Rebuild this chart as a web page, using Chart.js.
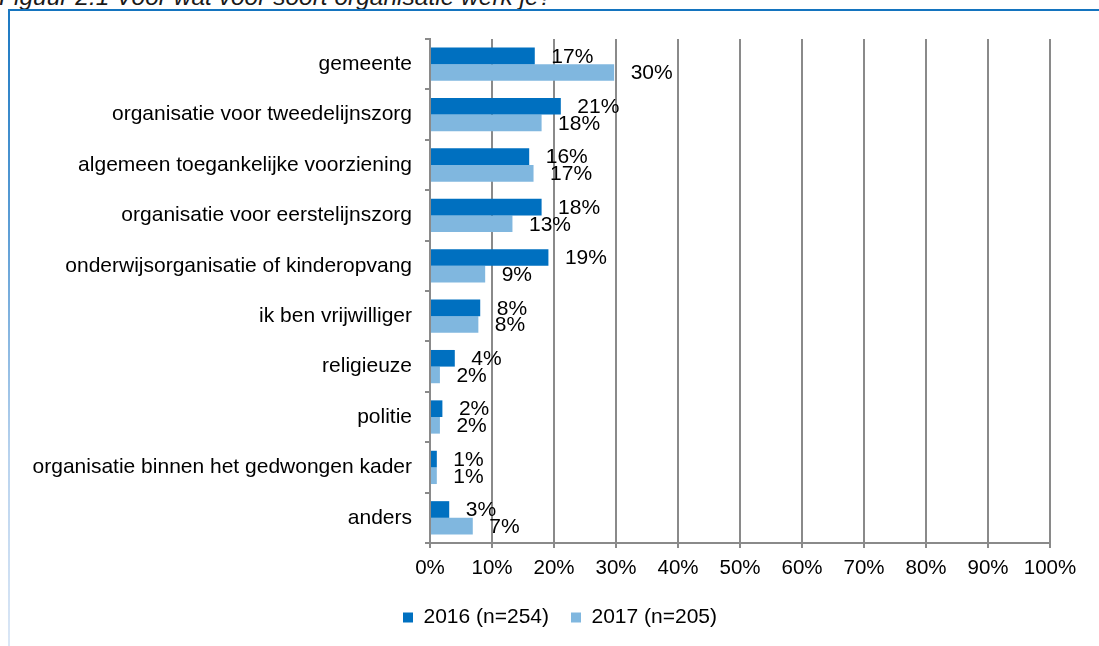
<!DOCTYPE html>
<html>
<head>
<meta charset="utf-8">
<script src="https://cdn.jsdelivr.net/npm/chart.js@4"></script>
<style>
  html, body { margin: 0; padding: 0; background: #fff; overflow: hidden; width: 1099px; height: 646px; }
  #title { position: absolute; left: -1px; top: -15px; font: italic 24.5px "Liberation Sans", Arial, sans-serif; line-height: 24px; color: #1a1a1a; white-space: nowrap; }
  #frameTop { position: absolute; left: 8px; top: 9px; width: 1200px; height: 2px; background: #1474bf; }
  #frameLeft { position: absolute; left: 8px; top: 9px; width: 2px; height: 640px; background: linear-gradient(to bottom, #1b78c2 0%, #5f9fd6 35%, #b9d3ee 70%, #dbe7f6 100%); }
  #wrap { position: absolute; left: 0; top: 0; width: 1120px; height: 646px; }
</style>
</head>
<body>
<div id="title">Figuur 2.1 Voor wat voor soort organisatie werk je?</div>
<div id="frameTop"></div>
<div id="frameLeft"></div>
<div id="wrap"><canvas id="c"></canvas></div>
<script>
const categories = [
  "gemeente",
  "organisatie voor tweedelijnszorg",
  "algemeen toegankelijke voorziening",
  "organisatie voor eerstelijnszorg",
  "onderwijsorganisatie of kinderopvang",
  "ik ben vrijwilliger",
  "religieuze",
  "politie",
  "organisatie binnen het gedwongen kader",
  "anders"
];
const values2016 = [16.9, 21.1, 16.0, 18.0, 19.1, 8.1, 4.0, 2.0, 1.1, 3.1];
const values2017 = [29.7, 18.0, 16.7, 13.3, 8.9, 7.8, 1.6, 1.6, 1.1, 6.9];
const seriesNames = ["2016 (n=254)", "2017 (n=205)"];
const xTicks = [0, 10, 20, 30, 40, 50, 60, 70, 80, 90, 100];

const FONT = '"Liberation Sans", Arial, sans-serif';

const valueLabels = {
  id: 'valueLabels',
  afterDatasetsDraw(chart) {
    const ctx = chart.ctx;
    ctx.save();
    ctx.font = '21px ' + FONT;
    ctx.fillStyle = '#000';
    ctx.textAlign = 'left';
    ctx.textBaseline = 'middle';
    chart.data.datasets.forEach((ds, di) => {
      const meta = chart.getDatasetMeta(di);
      meta.data.forEach((bar, i) => {
        ctx.fillText(Math.round(ds.data[i]) + '%', bar.x + 16.5, bar.y + 1);
      });
    });
    ctx.restore();
  }
};

const legendShift = {
  id: 'legendShift',
  afterLayout(chart) {
    if (chart.legend) chart.legend.left = 70;
  }
};

new Chart(document.getElementById('c'), {
  type: 'bar',
  data: {
    labels: categories,
    datasets: [
      { label: seriesNames[0], data: values2016, backgroundColor: '#0070c0', borderWidth: 0,
        categoryPercentage: 0.66, barPercentage: 1.0 },
      { label: seriesNames[1], data: values2017, backgroundColor: '#80b7df', borderWidth: 0,
        categoryPercentage: 0.66, barPercentage: 1.0 }
    ]
  },
  options: {
    indexAxis: 'y',
    responsive: true,
    maintainAspectRatio: false,
    animation: false,
    layout: { padding: { top: 39, right: 70, left: 0, bottom: 8 } },
    plugins: {
      legend: {
        position: 'bottom',
        labels: {
          boxWidth: 10, boxHeight: 10, padding: 22,
          color: '#000',
          font: { family: FONT, size: 21 }
        }
      },
      tooltip: { enabled: false }
    },
    scales: {
      x: {
        min: 0, max: 100,
        afterBuildTicks(scale) { scale.ticks = xTicks.map(v => ({ value: v })); },
        afterFit(scale) { scale.height = 42; },
        ticks: {
          color: '#000', padding: 8,
          font: { family: FONT, size: 20.5 },
          callback: v => v + '%'
        },
        grid: { color: '#8a8a8a', lineWidth: 2, tickLength: 5, drawOnChartArea: true },
        border: { color: '#8a8a8a', width: 2 }
      },
      y: {
        afterFit(scale) { scale.width = 430; },
        ticks: { color: '#000', padding: 13, font: { family: FONT, size: 21 } },
        grid: { color: '#8a8a8a', lineWidth: 2, tickLength: 5, drawOnChartArea: false, offset: true },
        border: { color: '#8a8a8a', width: 2 }
      }
    }
  },
  plugins: [valueLabels, legendShift]
});
</script>
</body>
</html>
